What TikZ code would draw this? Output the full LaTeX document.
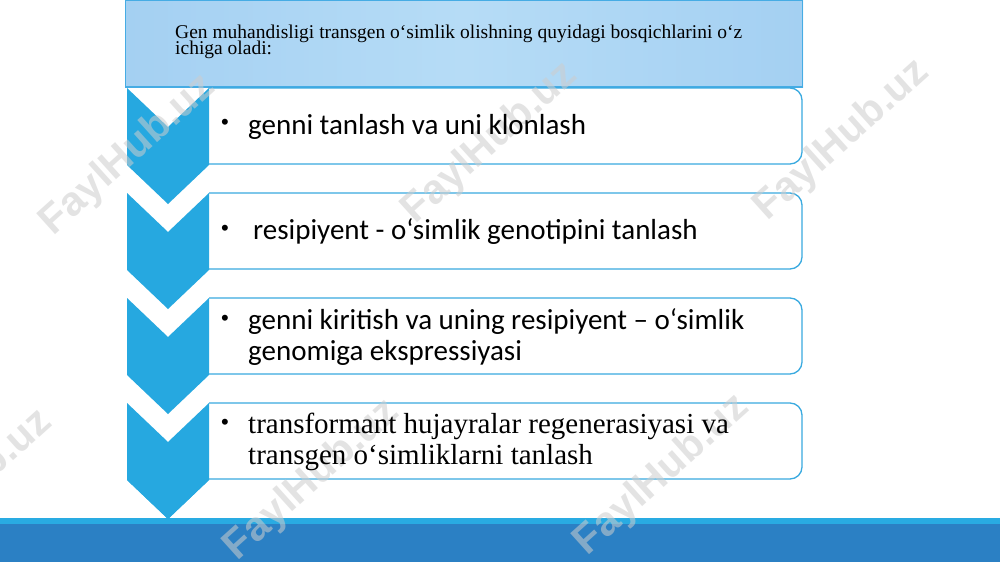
\documentclass[tikz,border=0pt]{standalone}
\usepackage{fontspec}
\setmainfont{Liberation Serif}
\newfontfamily\carlito{Carlito}
\newfontfamily\wmfont{Liberation Sans}
\definecolor{chev}{RGB}{38,168,224}
\definecolor{boxline}{RGB}{58,170,224}
\definecolor{titleA}{RGB}{164,208,242}
\definecolor{titleB}{RGB}{182,220,246}
\definecolor{titleline}{RGB}{70,172,228}
\definecolor{barlight}{RGB}{41,171,226}
\definecolor{bardark}{RGB}{43,128,196}
\definecolor{wmgray}{RGB}{205,205,205}
\tikzset{
  chevron/.style={fill=chev, draw=none},
  stepframe/.style={draw=boxline, line width=1.3pt, fill=white, rounded corners=12pt},
  itemtext/.style={anchor=base west, inner sep=0pt, font=\carlito\fontsize{29}{32}\selectfont},
  itemserif/.style={anchor=base west, inner sep=0pt, font=\fontsize{29}{32}\selectfont},
  bulletmark/.style={anchor=base west, inner sep=0pt, font=\wmfont\fontsize{22}{24}\selectfont},
  titletext/.style={anchor=base west, inner sep=0pt, font=\fontsize{19.5}{16}\selectfont},
  wmark/.style={font=\wmfont\bfseries\fontsize{41}{41}\selectfont, text=wmgray, opacity=0.55, rotate=42, inner sep=0pt}
}
\begin{document}
\begin{tikzpicture}[x=1pt,y=-1pt]
\useasboundingbox (0,0) rectangle (1000,562);
\fill[white] (0,0) rectangle (1000,562);
% title box
\shade[left color=titleA, right color=titleA, middle color=titleB] (125,0) rectangle (803,87);
\draw[titleline, line width=1.2pt] (125.6,0.6) rectangle (802.4,87);
% step frames
\begin{scope}
\clip (209,0) rectangle (1000,562);
\foreach \y in {88,193,298,403}{
  \draw[stepframe] (180,\y) rectangle (802,\y+76);
}
\end{scope}
% chevrons
\foreach \y in {88,193,298,403}{
  \fill[chevron] (127,\y) -- (168,\y+39) -- (209,\y) -- (209,\y+77) -- (168,\y+116) -- (127,\y+77) -- cycle;
}
% bottom bar
\fill[bardark] (0,524) rectangle (1000,562);
\fill[barlight] (0,518) rectangle (1000,524);
\fill[chevron] (127,480) -- (209,480) -- (168,519) -- cycle;
% watermarks
\node[wmark] (w1) at (128,155) {FaylHub.uz};
\node[wmark] (w2) at (490,143) {FaylHub.uz};
\node[wmark] (w3) at (842,140) {FaylHub.uz};
\node[wmark] (w4) at (-35,490) {FaylHub.uz};
\node[wmark] (w5) at (312,480) {FaylHub.uz};
\node[wmark] (w6) at (662,475) {FaylHub.uz};
% texts
\node[titletext] (t1) at (175,38) {Gen muhandisligi transgen o‘simlik olishning quyidagi bosqichlarini o‘z};
\node[titletext] (t2) at (175,54) {ichiga oladi:};
\node[bulletmark] (b1) at (221,129) {•};
\node[itemtext] (s1) at (248,134) {genni tanlash va uni klonlash};
\node[bulletmark] (b2) at (221,235) {•};
\node[itemtext] (s2) at (253,239) {resipiyent - o‘simlik genotipini tanlash};
\node[bulletmark] (b3) at (221,325) {•};
\node[itemtext] (s3a) at (248,329) {genni kiritish va uning resipiyent – o‘simlik};
\node[itemtext] (s3b) at (248,360) {genomiga ekspressiyasi};
\node[bulletmark] (b4) at (221,429) {•};
\node[itemserif] (s4a) at (248,433) {transformant hujayralar regenerasiyasi va};
\node[itemserif] (s4b) at (248,464) {transgen o‘simliklarni tanlash};
\end{tikzpicture}
\end{document}
